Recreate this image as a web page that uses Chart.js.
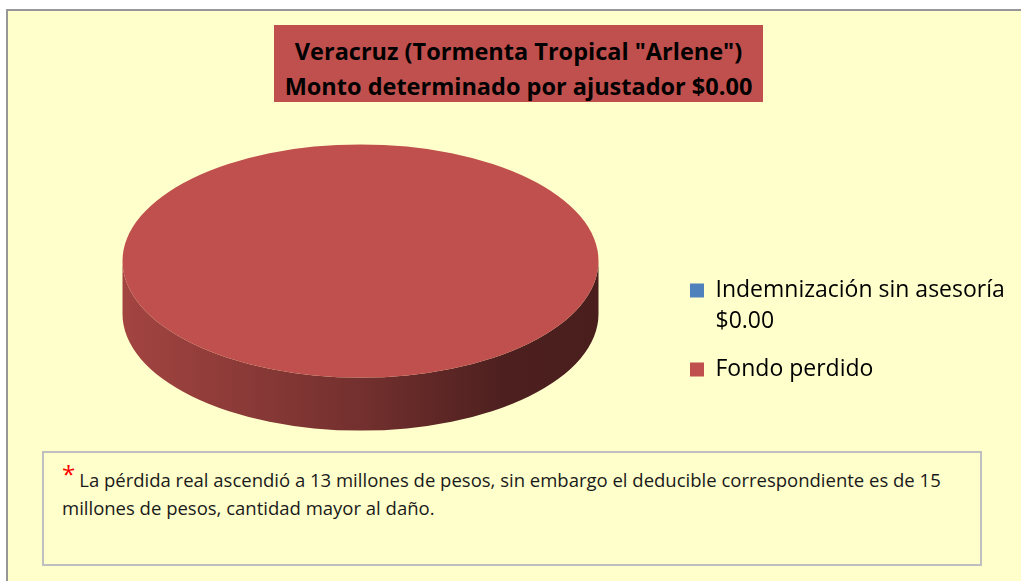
<!DOCTYPE html>
<html>
<head>
<meta charset="utf-8">
<script src="https://cdn.jsdelivr.net/npm/chart.js@4.4.0/dist/chart.umd.min.js"></script>
<style>
  html, body { margin: 0; padding: 0; background: #fff; }
  body { width: 1021px; height: 581px; position: relative; overflow: hidden; font-family: "Open Sans", sans-serif; }
  #frame { position: absolute; left: 6px; top: 9px; width: 1030px; height: 600px; background: #FFFFCC; border-left: 2px solid #979797; border-top: 2px solid #979797; }
  #chart { position: absolute; left: 0; top: 0; }
  #title { position: absolute; left: 274px; top: 25px; width: 489px; height: 77px; box-sizing: border-box; padding-top: 9px;
           background: #C0504D; color: #000; font-weight: bold; font-size: 23.5px; line-height: 35px; text-align: center; white-space: nowrap; }
  #note { position: absolute; left: 42px; top: 451px; width: 940px; height: 115px; box-sizing: border-box; border: 2px solid #BFBFBF;
          background: #FFFFCC; padding: 11px 18px; font-size: 18.5px; line-height: 28px; color: #1a1a1a; }
  #note .star { color: #FF0000; font-size: 24px; position: relative; top: -4px; margin-right: 4px; }
</style>
</head>
<body>
<div id="frame"></div>
<canvas id="chart" width="1021" height="581"></canvas>
<div id="title">Veracruz (Tormenta Tropical "Arlene")<br>Monto determinado por ajustador $0.00</div>
<div id="note"><span class="star">*</span>La pérdida real ascendió a 13 millones de pesos, sin embargo el deducible correspondiente es de 15 millones de pesos, cantidad mayor al daño.</div>
<script>
var categories = ['Indemnización sin asesoría', 'Fondo perdido']
var amountLabels = ['$0.00', '']
var values = [0, 13000000]
var colors = ['#4F81BD', '#C0504D']

// 3d look
var tilt = 0.49
var depth = 53
var lift = 69
var legendLeft = 673

function shade(hex, f) {
    let n = parseInt(hex.slice(1), 16);
    let r = Math.round(((n >> 16) & 255) * f);
    let g = Math.round(((n >> 8) & 255) * f);
    let b = Math.round((n & 255) * f);
    return 'rgb(' + r + ',' + g + ',' + b + ')';
}

function frontPart(s, e) {
    // part of [s, e] that lies in the front half (0..PI), checked over a few turns
    let parts = [];
    for (let k = -2; k <= 2; k++) {
        let a = Math.max(s, k * 2 * Math.PI);
        let b = Math.min(e, k * 2 * Math.PI + Math.PI);
        if (b > a) parts.push([a, b]);
    }
    return parts;
}

const pie3d = {
    id: 'pie3d',
    beforeDatasetsDraw(chart) {
        const ctx = chart.ctx;
        const arcs = chart.getDatasetMeta(0).data;
        if (!arcs.length) return;
        const cx = arcs[0].x, cy = arcs[0].y, r = arcs[0].outerRadius;
        const ey = cy - lift, ry = r * tilt;
        ctx.save();
        arcs.forEach(function (arc, i) {
            if (arc.endAngle - arc.startAngle <= 0) return;
            frontPart(arc.startAngle, arc.endAngle).forEach(function (p) {
                let grad = ctx.createLinearGradient(cx - r, 0, cx + r, 0);
                grad.addColorStop(0, shade(colors[i], 0.85));
                grad.addColorStop(0.5, shade(colors[i], 0.6));
                grad.addColorStop(0.8, shade(colors[i], 0.4));
                grad.addColorStop(1, shade(colors[i], 0.38));
                ctx.beginPath();
                ctx.ellipse(cx, ey, r, ry, 0, p[0], p[1]);
                ctx.lineTo(cx + r * Math.cos(p[1]), ey + depth + ry * Math.sin(p[1]));
                ctx.ellipse(cx, ey + depth, r, ry, 0, p[1], p[0], true);
                ctx.closePath();
                ctx.fillStyle = grad;
                ctx.fill();
            });
        });
        ctx.restore();
        // squash the top face
        ctx.save();
        ctx.translate(0, ey);
        ctx.scale(1, tilt);
        ctx.translate(0, -cy);
    },
    afterDatasetsDraw(chart) {
        chart.ctx.restore();
    }
};

var ctx = document.getElementById('chart').getContext('2d');
var chart = new Chart(ctx, {
    type: 'pie',
    data: {
        labels: categories.map(function (c, i) { return amountLabels[i] ? [c, amountLabels[i]] : c; }),
        datasets: [{
            data: values,
            backgroundColor: colors,
            borderWidth: 0
        }]
    },
    options: {
        responsive: false,
        devicePixelRatio: 1,
        animation: false,
        layout: { padding: { left: 48, top: 92, bottom: 13, right: 0 } },
        plugins: {
            tooltip: { enabled: false },
            legend: {
                position: 'right',
                align: 'center',
                labels: {
                    boxWidth: 14,
                    boxHeight: 14,
                    padding: 17,
                    color: '#000',
                    font: { family: 'Open Sans', size: 23, lineHeight: 1.35 }
                }
            }
        }
    },
    plugins: [pie3d]
});
chart.options.layout.padding.right = 1021 - legendLeft - chart.legend.width;
chart.update();
</script>
</body>
</html>
